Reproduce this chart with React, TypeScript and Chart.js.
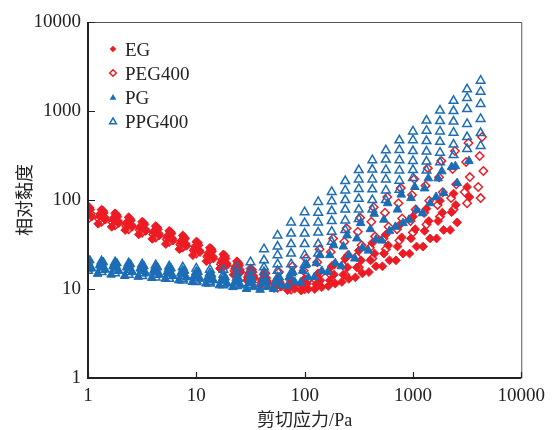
import React, { useEffect, useRef } from "react";
import { Chart, registerables } from "chart.js";

Chart.register(...registerables);

// Shear stress grid (Pa)
const xStress = [1, 1.334, 1.778, 2.371, 3.162, 4.217, 5.623, 7.499, 10, 13.34, 17.78, 23.71, 31.62, 42.17, 56.23, 74.99, 100, 133.4, 177.8, 237.1, 316.2, 421.7, 562.3, 749.9, 1000, 1334, 1778, 2371, 3162, 4217];

const seriesNames = ["EG", "PEG400", "PG", "PPG400"];

// EG (filled diamonds)
const egCurves: (number | null)[][] = [
  [85, 78, 71, 64, 57, 51, 45, 40, 34, 29, 24.5, 20.5, 17, 14.5, 13, 12.5, 13, 15, 18, 22, 27, 33, 41, 52, 65, 80, 98, 118, 140, null],
  [78, 72, 65, 59, 53, 47, 42, 36.5, 31, 26.5, 22, 18.5, 15.5, 13.3, 12, 11.5, 11.5, 12.5, 14.5, 17.5, 21, 25, 31, 38, 47, 58, 72, 88, 108, null],
  [72, 66, 60, 54, 48.5, 43, 38, 33, 28, 24, 20, 17, 14.3, 12.5, 11.2, 10.7, 10.6, 11.3, 12.5, 14.5, 17.5, 21, 25, 30, 37, 45, 58, 73, null, null],
  [65, 60, 55, 50, 45, 40, 35, 30.5, 26, 22, 18.5, 15.5, 13.2, 11.7, 10.6, 10.1, 10, 10.5, 11.5, 13, 15, 18, 21, 25, 30, 37, 46, 56, null, null],
  [58, 54, 50, 46, 41, 36.5, 32, 28, 24, 20.5, 17, 14.5, 12.5, 11, 10.2, 9.7, 9.6, 10, 10.8, 12, 13.5, 15.5, 18, 21, 25, 30, 37, 46, null, null],
];
const egXShift = [1.0, 1.05, 0.96, 1.08, 0.93];

// PEG400 (open diamonds)
const peg400Curves: (number | null)[][] = [
  [82, 75, 68, 61, 55, 49, 43.5, 38, 33, 28, 23.5, 19.5, 16.5, 15, 15.5, 18, 22, 28, 37, 48, 63, 83, 108, 136, 172, 228, 275, 355, 437, 510],
  [76, 70, 63, 57, 51, 45.5, 40, 35, 30, 25.5, 21.5, 18, 15, 13, 12.2, 13, 16, 20, 26, 34, 44, 57, 72, 92, 114, 145, 180, 223, 267, 312],
  [70, 64, 58, 52, 47, 42, 37, 32, 27, 23, 19.5, 16.5, 14, 12.3, 11.3, 11.2, 12.5, 15, 19, 24, 31, 39, 50, 62, 78, 98, 122, 150, 181, 212],
  [66, 61, 56, 51, 46, 41, 36, 31.5, 27, 23, 19, 16, 13.5, 11.8, 10.8, 10.5, 11, 12.5, 15, 18.5, 23, 29, 37, 47, 58, 72, 88, 105, 123, 140],
  [61, 57, 52, 47, 43, 38, 34, 29.5, 25, 21.5, 18, 15, 12.8, 11.2, 10.3, 9.9, 10, 11, 12.5, 14.5, 17.5, 22, 28, 35, 43, 53, 65, 78, 92, 105],
];
const peg400XShift = [1.03, 0.98, 1.06, 0.95, 1.0];

// PG (filled triangles)
const pgCurves: (number | null)[][] = [
  [21, 20, 19.5, 19, 18, 17.5, 17, 16, 15.5, 14.5, 13.5, 13, 12.5, 12.5, 13.5, 15.5, 19, 24, 31, 40, 55, 70, 92, 115, 140, 175, 210, 240, 275, null],
  [19, 18.5, 18, 17.5, 17, 16, 15.5, 15, 14, 13.5, 12.5, 12, 11.5, 11.5, 12, 13.5, 16, 19.5, 24, 30, 37, 47, 60, 78, 105, 135, 175, 235, null, null],
  [17, 16.5, 16, 15.5, 15, 14.5, 14, 13.5, 13, 12.5, 11.5, 11, 10.5, 10.5, 11, 12, 13.5, 16, 19.5, 24, 29, 36, 45, 55, 77, 92, 120, 155, null, null],
  [15, 14.8, 14.5, 14, 13.7, 13.3, 13, 12.5, 12, 11.5, 11, 10.5, 10, 9.8, 10, 10.8, 11.8, 13.5, 15.5, 18, 22, 27, 35, 50, 60, 71, 108, null, null, null],
];
const pgXShift = [1.04, 0.96, 1.08, 0.92];

// PPG400 (open triangles)
const ppg400Curves: (number | null)[][] = [
  [21, 20.5, 20, 19.5, 19, 18.5, 18, 17.5, 17, 16.5, 16.5, 17.5, 20, 28, 40, 56, 73, 95, 123, 163, 217, 280, 362, 468, 590, 780, 1010, 1300, 1750, 2190],
  [20, 19.5, 19, 18.5, 18, 17.5, 17, 16, 15.5, 15, 14.5, 15, 16.5, 21, 30, 42, 55, 72, 97, 128, 170, 220, 285, 365, 470, 600, 770, 1000, 1400, 1650],
  [19, 18.5, 18, 17.5, 17, 16.5, 16, 15, 14.5, 14, 13.5, 13.5, 14.5, 17.5, 24, 32, 42, 56, 75, 100, 133, 170, 218, 280, 355, 460, 590, 760, 1050, 1200],
  [18, 17.5, 17, 16.5, 16, 15.5, 15, 14, 13.5, 13, 12.5, 12.5, 13, 15.5, 19, 25, 32, 43, 58, 78, 103, 132, 170, 215, 275, 350, 450, 570, 715, 815],
  [17, 16.5, 16, 15.5, 15, 14.5, 14, 13, 12.5, 12, 11.5, 11.5, 12, 13.5, 16, 19, 24, 32, 44, 59, 78, 100, 128, 165, 217, 270, 340, 420, 510, 565],
  [16, 15.5, 15, 14.5, 14, 13.5, 13, 12.5, 12, 11.5, 11, 10.8, 11, 12, 13.5, 15, 18.6, 25, 34, 46, 61, 78, 100, 130, 177, 215, 265, 320, 375, 405],
];
const ppg400XShift = [1.0, 1.0, 1.0, 1.0, 1.0, 1.0];

const xTickValues = [1, 10, 100, 1000, 10000];
const xTickLabels = ["1", "10", "100", "1000", "10000"];
const yTickValues = [1, 10, 100, 1000, 10000];
const yTickLabels = ["1", "10", "100", "1000", "10000"];

const xTitle = "剪切应力/Pa";
const yTitle = "相对黏度";

const RED = "#ED1C24";
const BLUE = "#1C6DB6";
const TEXT = "#222";
const SERIF = "'Liberation Serif', 'Times New Roman', serif";

type SeriesDef = {
  name: string;
  curves: (number | null)[][];
  xShift: number[];
  color: string;
  filled: boolean;
  shape: "rectRot" | "triangle";
  radius: number;
  order: number;
};

const seriesDefs: SeriesDef[] = [
  { name: seriesNames[0], curves: egCurves, xShift: egXShift, color: RED, filled: true, shape: "rectRot", radius: 4.4, order: 4 },
  { name: seriesNames[1], curves: peg400Curves, xShift: peg400XShift, color: RED, filled: false, shape: "rectRot", radius: 4.2, order: 3 },
  { name: seriesNames[2], curves: pgCurves, xShift: pgXShift, color: BLUE, filled: true, shape: "triangle", radius: 5, order: 2 },
  { name: seriesNames[3], curves: ppg400Curves, xShift: ppg400XShift, color: BLUE, filled: false, shape: "triangle", radius: 5, order: 1 },
];

function drawMarker(ctx: CanvasRenderingContext2D, shape: string, x: number, y: number, r: number, color: string, filled: boolean) {
  ctx.beginPath();
  if (shape === "rectRot") {
    ctx.moveTo(x - r, y);
    ctx.lineTo(x, y - r);
    ctx.lineTo(x + r, y);
    ctx.lineTo(x, y + r);
  } else {
    const a = (2 * Math.PI) / 3;
    ctx.moveTo(x, y - r);
    ctx.lineTo(x + Math.sin(a) * r, y - Math.cos(a) * r);
    ctx.lineTo(x + Math.sin(2 * a) * r, y - Math.cos(2 * a) * r);
  }
  ctx.closePath();
  if (filled) {
    ctx.fillStyle = color;
    ctx.fill();
  } else {
    ctx.strokeStyle = color;
    ctx.lineWidth = 1.5;
    ctx.stroke();
  }
}

const framePlugin = {
  id: "frameAndLegend",
  afterDraw(chart: any) {
    const { ctx, chartArea, scales } = chart;
    const { left, right, top, bottom } = chartArea;
    ctx.save();
    // thin top/right frame
    ctx.strokeStyle = "#555";
    ctx.lineWidth = 1;
    ctx.beginPath();
    ctx.moveTo(left, top + 0.5);
    ctx.lineTo(right + 0.5, top + 0.5);
    ctx.lineTo(right + 0.5, bottom);
    ctx.stroke();
    // thick left/bottom axes
    ctx.strokeStyle = "#222";
    ctx.lineWidth = 2;
    ctx.beginPath();
    ctx.moveTo(left, top);
    ctx.lineTo(left, bottom);
    ctx.lineTo(right, bottom);
    ctx.stroke();
    // inward ticks
    ctx.lineWidth = 1.2;
    ctx.beginPath();
    xTickValues.forEach((v) => {
      const px = Math.round(scales.x.getPixelForValue(v)) + 0.5;
      ctx.moveTo(px, bottom);
      ctx.lineTo(px, bottom - 6);
    });
    yTickValues.forEach((v) => {
      const py = Math.round(scales.y.getPixelForValue(v)) + 0.5;
      ctx.moveTo(left, py);
      ctx.lineTo(left + 7, py);
    });
    ctx.stroke();
    // legend
    const lx = left + 25;
    const ly0 = top + 27;
    const dy = 24;
    ctx.font = `19px ${SERIF}`;
    ctx.textBaseline = "alphabetic";
    ctx.textAlign = "left";
    seriesDefs.forEach((s, i) => {
      const cy = ly0 + i * dy;
      const r = s.shape === "rectRot" ? 3.3 : 3.9;
      drawMarker(ctx, s.shape, lx, cy + (s.shape === "triangle" ? 0.8 : 0), r, s.color, s.filled);
      ctx.fillStyle = TEXT;
      ctx.fillText(s.name, lx + 12, cy + 6.5);
    });
    ctx.restore();
  },
};

export default function App() {
  const canvasRef = useRef<HTMLCanvasElement | null>(null);

  useEffect(() => {
    if (!canvasRef.current) return;
    const datasets: any[] = [];
    seriesDefs.forEach((s) => {
      s.curves.forEach((curve, ci) => {
        const data = curve
          .map((v, i) => (v == null ? null : { x: xStress[i] * s.xShift[ci], y: v }))
          .filter((p) => p !== null);
        datasets.push({
          label: `${s.name}-${ci + 1}`,
          data,
          showLine: false,
          order: s.order,
          pointStyle: s.shape,
          pointRadius: s.radius,
          pointHoverRadius: s.radius,
          pointBorderWidth: s.filled ? 1 : 1.5,
          pointBorderColor: s.color,
          pointBackgroundColor: s.filled ? s.color : "rgba(0,0,0,0)",
          borderColor: s.color,
          backgroundColor: s.filled ? s.color : "rgba(0,0,0,0)",
        });
      });
    });

    const chart = new Chart(canvasRef.current, {
      type: "scatter",
      data: { datasets },
      options: {
        animation: false,
        responsive: false,
        events: [],
        layout: { padding: { top: 22, right: 23, left: 0, bottom: 0 } },
        plugins: {
          legend: { display: false },
          tooltip: { enabled: false },
          title: { display: false },
        },
        scales: {
          x: {
            type: "logarithmic",
            min: 1,
            max: 10000,
            grid: { display: false, drawTicks: false },
            border: { display: false },
            afterBuildTicks: (s: any) => {
              s.ticks = xTickValues.map((v) => ({ value: v }));
            },
            afterFit: (s: any) => {
              s.height = 52;
            },
            ticks: {
              padding: 7,
              maxRotation: 0,
              autoSkip: false,
              color: TEXT,
              font: { family: SERIF, size: 19 },
              callback: (_v: any, i: number) => xTickLabels[i],
            },
            title: {
              display: true,
              text: xTitle,
              color: TEXT,
              font: { family: `'Liberation Serif', 'Noto Sans CJK SC'`, size: 18, lineHeight: 1 },
              padding: { top: 0, bottom: 0 },
            },
          },
          y: {
            type: "logarithmic",
            min: 1,
            max: 10000,
            grid: { display: false, drawTicks: false },
            border: { display: false },
            afterBuildTicks: (s: any) => {
              s.ticks = yTickValues.map((v) => ({ value: v }));
            },
            afterFit: (s: any) => {
              s.width = 88;
            },
            ticks: {
              padding: 7,
              autoSkip: false,
              color: TEXT,
              font: { family: SERIF, size: 19 },
              callback: (_v: any, i: number) => yTickLabels[i],
            },
            title: {
              display: true,
              text: yTitle,
              color: TEXT,
              font: { family: "'Noto Sans CJK SC'", size: 18, lineHeight: 1.2 },
              padding: { top: 13, bottom: 0 },
            },
          },
        },
      },
      plugins: [framePlugin],
    } as any);

    return () => chart.destroy();
  }, []);

  return (
    <div style={{ position: "fixed", left: 0, top: 0, width: 552, height: 430, background: "#fff" }}>
      <canvas ref={canvasRef} width={552} height={430} style={{ display: "block" }} />
    </div>
  );
}
